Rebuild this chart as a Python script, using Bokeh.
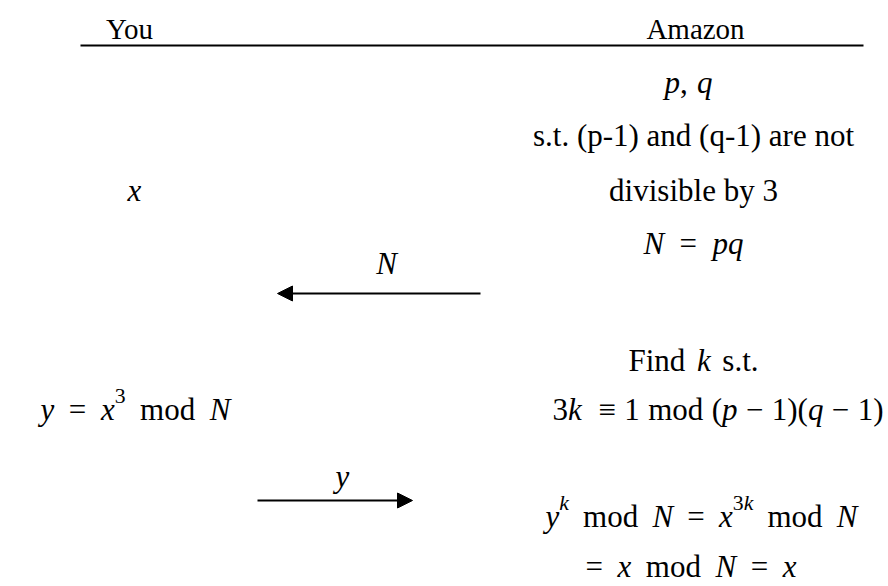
from bokeh.plotting import figure
from bokeh.models import Range1d, Arrow, NormalHead, ColumnDataSource
from bokeh.core.properties import value
from bokeh.embed import file_html
from bokeh.resources import INLINE

# ---- content (texts of the diagram) ----
headers = ["You", "Amazon"]
amazon_text = ["s.t. (p-1) and (q-1) are not", "divisible by 3"]
msg_labels = ["N", "y"]
# math lines: (text, italic, superscript, gap-weight before)
line_pq = [("p", 1, 0, 0), (",", 0, 0, 0), ("q", 1, 0, 1)]
line_N = [("N", 1, 0, 0), ("=", 0, 0, 1), ("pq", 1, 0, 1)]
line_x = [("x", 1, 0, 0)]
line_find = [("Find", 0, 0, 0), ("k", 1, 0, 1), ("s.t.", 0, 0, 1)]
line_y = [("y", 1, 0, 0), ("=", 0, 0, 1), ("x", 1, 0, 1), ("3", 0, 1, 0),
          ("mod", 0, 0, 1), ("N", 1, 0, 1)]
line_k = [("3", 0, 0, 0), ("k", 1, 0, 0), ("≡", 0, 0, 2), ("1", 0, 0, 1),
          ("mod", 0, 0, 1), ("(", 0, 0, 1), ("p", 1, 0, 0), ("−", 0, 0, 1),
          ("1)(", 0, 0, 1), ("q", 1, 0, 0), ("−", 0, 0, 1), ("1)", 0, 0, 1)]
line_dec1 = [("y", 1, 0, 0), ("k", 1, 1, 0), ("mod", 0, 0, 1), ("N", 1, 0, 1),
             ("=", 0, 0, 1), ("x", 1, 0, 1), ("3", 0, 1, 0), ("k", 1, 1, 0),
             ("mod", 0, 0, 1), ("N", 1, 0, 1)]
line_dec2 = [("=", 0, 0, 0), ("x", 1, 0, 1), ("mod", 0, 0, 1), ("N", 1, 0, 1),
             ("=", 0, 0, 1), ("x", 1, 0, 1)]

ROMAN = {' ': 250, '(': 333, ')': 333, ',': 250, '-': 333, '.': 250, '1': 500,
         '3': 500, '=': 564, 'A': 722, 'F': 556, 'N': 722, 'Y': 722, 'a': 444,
         'b': 500, 'd': 500, 'e': 444, 'i': 278, 'l': 278, 'm': 778, 'n': 500,
         'o': 500, 'p': 500, 'q': 500, 'r': 333, 's': 389, 't': 278, 'u': 500,
         'v': 500, 'y': 500, 'z': 444, '≡': 564, '−': 564}
ITALIC = {'N': 667, 'p': 500, 'q': 500, 'x': 444, 'y': 444, 'k': 444, ',': 250}

FS = 31
HFS = 29
FONT = "Liberation Serif"

rows = {"x": [], "y": [], "t": [], "it": [], "fs": []}


def seg_width(t, it, size):
    tab = ITALIC if it else ROMAN
    return sum(tab.get(c, 500) for c in t) / 1000.0 * size


def place(segs, x0, x1, base, size=FS):
    sizes = [size * 0.7 if s[2] else size for s in segs]
    widths = [seg_width(s[0], s[1], sz) for s, sz in zip(segs, sizes)]
    gw = sum(s[3] for s in segs)
    unit = (x1 - x0 - sum(widths)) / gw if gw else 0
    x = x0
    for (t, it, sup, g), w, sz in zip(segs, widths, sizes):
        x += g * unit
        rows["x"].append(x)
        rows["y"].append(base - (0.42 * size if sup else 0))
        rows["t"].append(t)
        rows["it"].append(it)
        rows["fs"].append(sz)
        x += w


place(line_pq, 664, 712, 82)
place(line_N, 643, 743, 243)
place(line_x, 127, 142, 190)
place(line_find, 628, 758, 360)
place(line_y, 40, 230, 409)
place(line_k, 552, 883, 409)
place(line_dec1, 545, 857, 516)
place(line_dec2, 585, 796, 566)

W, H = 888, 586
p = figure(width=W, height=H, x_range=Range1d(0, W), y_range=Range1d(H, 0),
           output_backend="svg", toolbar_location=None, min_border=0,
           min_border_left=0, min_border_right=0, min_border_top=0, min_border_bottom=0)
p.axis.visible = False
p.grid.visible = False
p.outline_line_color = None
p.background_fill_color = "white"
p.border_fill_color = "white"

for it in (0, 1):
    for fs in sorted(set(rows["fs"])):
        idx = [i for i in range(len(rows["t"])) if rows["it"][i] == it and rows["fs"][i] == fs]
        if not idx:
            continue
        src = ColumnDataSource(dict(x=[rows["x"][i] for i in idx], y=[rows["y"][i] for i in idx],
                                    t=[rows["t"][i] for i in idx]))
        p.text(x="x", y="y", text="t", source=src, text_font=value(FONT),
               text_font_size=f"{fs:.1f}px", text_font_style="italic" if it else "normal",
               text_align="left", text_baseline="alphabetic", text_color="black")

# plain centered texts
p.text(x=[129, 695], y=[28, 28], text=headers, text_font=value(FONT), text_font_size=f"{HFS}px",
       text_align="center", text_baseline="alphabetic", text_color="black")
p.text(x=[693, 693], y=[135, 190], text=amazon_text, text_font=value(FONT), text_font_size=f"{FS}px",
       text_align="center", text_baseline="alphabetic", text_color="black")
p.text(x=[386, 342], y=[263, 476], text=msg_labels, text_font=value(FONT), text_font_size=f"{FS}px",
       text_font_style="italic", text_align="center", text_baseline="alphabetic", text_color="black")

# header rule
p.segment(x0=[80], y0=[45], x1=[863], y1=[45], line_width=2, line_color="black")

# arrows
p.add_layout(Arrow(x_start=480, y_start=293, x_end=277, y_end=293, line_width=2, line_color="black",
                   end=NormalHead(size=15, fill_color="black", line_color="black")))
p.add_layout(Arrow(x_start=257, y_start=500, x_end=412, y_end=500, line_width=2, line_color="black",
                   end=NormalHead(size=15, fill_color="black", line_color="black")))

open("out.html", "w").write(file_html(p, INLINE))
